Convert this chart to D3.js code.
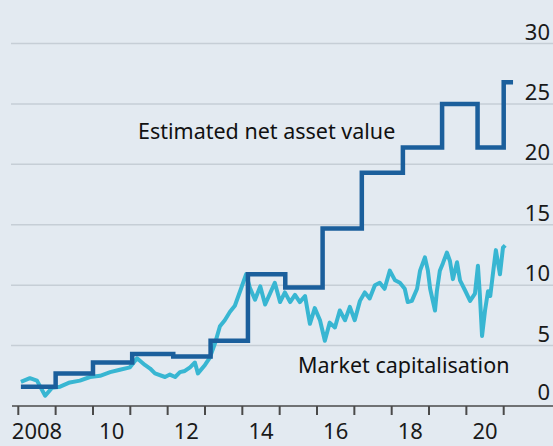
<!DOCTYPE html>
<html>
<head>
<meta charset="utf-8">
<script src="https://cdn.jsdelivr.net/npm/d3@7"></script>
<style>
  body { margin: 0; background: #e3eaf1; }
  svg { display: block; }
</style>
</head>
<body>
<div id="chart"></div>
<script>
// estimated net asset value, step series (start of each step, decimal year)
let navDates = [2008.07, 2009.0, 2010.0, 2011.05, 2012.15, 2013.15, 2014.15, 2015.15, 2016.15, 2017.2, 2018.3, 2019.35, 2020.3, 2021.0];
let navValues = [1.6, 2.7, 3.6, 4.3, 4.1, 5.4, 10.9, 9.8, 14.7, 19.3, 21.4, 25.0, 21.4, 26.8];
let navEnd = 2021.25;

// market capitalisation
let capDates = [2008.07, 2008.31, 2008.5, 2008.72, 2008.9, 2009.12, 2009.38, 2009.65, 2009.92, 2010.19,
  2010.46, 2010.72, 2010.99, 2011.18, 2011.39, 2011.53, 2011.66, 2011.93, 2012.06, 2012.2,
  2012.33, 2012.46, 2012.6, 2012.73, 2012.81, 2013.0, 2013.13, 2013.27, 2013.4, 2013.53,
  2013.67, 2013.8, 2013.94, 2014.1, 2014.2, 2014.34, 2014.48, 2014.61, 2014.74, 2014.87,
  2015.01, 2015.14, 2015.28, 2015.41, 2015.54, 2015.68, 2015.81, 2015.94, 2016.08, 2016.21,
  2016.34, 2016.48, 2016.61, 2016.75, 2016.88, 2017.01, 2017.15, 2017.28, 2017.41, 2017.55,
  2017.68, 2017.81, 2017.95, 2018.09, 2018.22, 2018.35, 2018.43, 2018.54, 2018.68, 2018.76,
  2018.89, 2018.97, 2019.03, 2019.16, 2019.21, 2019.29, 2019.37, 2019.48, 2019.56, 2019.64,
  2019.75, 2019.83, 2019.96, 2020.1, 2020.23, 2020.31, 2020.36, 2020.42, 2020.5, 2020.58,
  2020.64, 2020.71, 2020.79, 2020.9, 2020.98, 2021.04];
let capValues = [2.0, 2.3, 2.1, 0.85, 1.5, 1.6, 1.95, 2.1, 2.4, 2.5,
  2.8, 3.0, 3.2, 3.95, 3.4, 3.1, 2.7, 2.4, 2.6, 2.4,
  2.8, 2.9, 3.2, 3.6, 2.7, 3.4, 4.0, 5.2, 6.6, 7.1,
  7.8, 8.3, 9.5, 10.9, 9.8, 8.8, 9.9, 8.4, 9.3, 10.2,
  8.6, 9.4, 8.6, 9.2, 8.6, 9.1, 6.8, 8.1, 7.1, 5.4,
  6.9, 6.5, 7.9, 7.1, 8.2, 7.1, 8.7, 9.4, 8.9, 10.0,
  10.2, 9.7, 11.2, 10.4, 10.2, 9.7, 8.6, 8.7, 9.7, 11.2,
  12.3, 11.2, 9.7, 7.9, 9.5, 11.2, 11.8, 12.7, 12.0, 10.5,
  11.9, 10.4, 9.6, 8.7, 9.3, 11.6, 9.3, 5.8, 7.9, 9.5,
  9.1, 10.9, 12.9, 10.9, 13.1, 13.3];

let yTicks = [0, 5, 10, 15, 20, 25, 30];
let xTicks = d3.range(2008, 2022);
let xLabels = [[2008, "2008"], [2010, "10"], [2012, "12"], [2014, "14"], [2016, "16"], [2018, "18"], [2020, "20"]];

let w = 553, h = 446;
let font = "'Noto Sans', 'Open Sans', sans-serif";

let x = d3.scaleLinear()
    .domain([2008, 2021])
    .range([18.3, 503.7]);

let y = d3.scaleLinear()
    .domain([0, 30])
    .range([406, 43.5]);

let svg = d3.select("#chart")
    .append("svg")
    .attr("width", w)
    .attr("height", h);

svg.append("rect")
    .attr("width", w).attr("height", h)
    .attr("fill", "#e3eaf1");

// gridlines
svg.append("g").selectAll("line")
    .data(yTicks.filter(d => d > 0))
    .enter()
    .append("line")
    .attr("x1", 11).attr("x2", w)
    .attr("y1", d => y(d)).attr("y2", d => y(d))
    .attr("stroke", "#c6ced6")
    .attr("stroke-width", 1.5);

// y labels sit on top of the gridlines at the right
svg.append("g").selectAll("text")
    .data(yTicks)
    .enter()
    .append("text")
    .attr("x", 550)
    .attr("y", d => y(d) - (d === 0 ? 6 : 4))
    .attr("text-anchor", "end")
    .style("font-family", font)
    .style("font-size", "22px")
    .attr("fill", "#1a1a1a")
    .text(d => d);

// market capitalisation
let capLine = d3.line()
    .x((d, i) => x(capDates[i]))
    .y(d => y(d));

svg.append("path")
    .datum(capValues)
    .attr("d", capLine)
    .attr("fill", "none")
    .attr("stroke", "#38b6d2")
    .attr("stroke-width", 4)
    .attr("stroke-linejoin", "round");

// net asset value as a step line
let navPts = navValues.map((v, i) => [navDates[i], v]);
navPts.push([navEnd, navValues[navValues.length - 1]]);

let navLine = d3.line()
    .x(d => x(d[0]))
    .y(d => y(d[1]))
    .curve(d3.curveStepAfter);

svg.append("path")
    .datum(navPts)
    .attr("d", navLine)
    .attr("fill", "none")
    .attr("stroke", "#1b5f9c")
    .attr("stroke-width", 4.5);

// x axis
svg.append("line")
    .attr("x1", 12).attr("x2", w)
    .attr("y1", 406).attr("y2", 406)
    .attr("stroke", "#4a4a4a")
    .attr("stroke-width", 1.5);

svg.append("g").selectAll("line")
    .data(xTicks)
    .enter()
    .append("line")
    .attr("x1", d => x(d)).attr("x2", d => x(d))
    .attr("y1", 406).attr("y2", 415)
    .attr("stroke", "#4a4a4a")
    .attr("stroke-width", 2);

svg.append("g").selectAll("text")
    .data(xLabels)
    .enter()
    .append("text")
    .attr("x", d => x(d[0] + 0.5))
    .attr("y", 439)
    .attr("text-anchor", "middle")
    .style("font-family", font)
    .style("font-size", "22px")
    .attr("fill", "#1a1a1a")
    .text(d => d[1]);

// series labels
svg.append("text")
    .attr("x", 138).attr("y", 139)
    .style("font-family", font)
    .style("font-size", "21.5px")
    .attr("fill", "#111")
    .text("Estimated net asset value");

svg.append("text")
    .attr("x", 298).attr("y", 373)
    .style("font-family", font)
    .style("font-size", "21.5px")
    .attr("fill", "#111")
    .text("Market capitalisation");
</script>
</body>
</html>
